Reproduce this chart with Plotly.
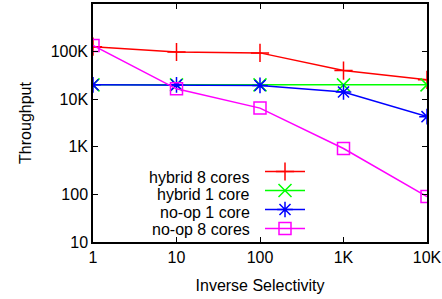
import plotly.graph_objects as go

x_vals = [1, 10, 100, 1000, 10000]
hybrid_8 = [127000, 98000, 94000, 40000, 25500]
hybrid_1 = [20000, 20000, 20000, 20000, 20000]
noop_1 = [20000, 20000, 19500, 14200, 4300]
noop_8 = [135000, 16500, 6500, 920, 90]

series_names = ["hybrid 8 cores", "hybrid 1 core", "no-op 1 core", "no-op 8 cores"]
series_vals = [hybrid_8, hybrid_1, noop_1, noop_8]
colors = ["#ff0000", "#00ff00", "#0000ff", "#ff00ff"]
symbols = ["cross-thin-open", "x-thin-open", "asterisk-open", "square-open"]
sizes = [13, 13, 13, 12]

x_tickvals = [1, 10, 100, 1000, 10000]
x_ticktext = ["1", "10", "100", "1K", "10K"]
y_tickvals = [10, 100, 1000, 10000, 100000, 1000000]
y_ticktext = ["10", "100", "1K", "10K", "100K", ""]

FONT = "Liberation Sans, Arial, sans-serif"
FS = 16

fig = go.Figure()
for name, vals, c, s, sz in zip(series_names, series_vals, colors, symbols, sizes):
    fig.add_trace(go.Scatter(
        x=x_vals, y=vals, name=name, mode="lines+markers",
        line=dict(color=c, width=1.5),
        marker=dict(symbol=s, size=sz, color=c, line=dict(color=c, width=1.5)),
    ))

axis_common = dict(
    type="log", showgrid=False, zeroline=False, showline=True, linecolor="black",
    linewidth=1.5, mirror="ticks", ticks="inside", ticklen=5, tickcolor="black",
    tickwidth=1, tickfont=dict(family=FONT, size=FS, color="black"), automargin=False,
)

PLOT_TOP, PLOT_BOTTOM = 4, 242
PLOT_H = PLOT_BOTTOM - PLOT_TOP

def py(pixel_y):
    return (PLOT_BOTTOM - pixel_y) / PLOT_H

fig.update_layout(
    width=442, height=299,
    margin=dict(l=93, r=15, t=PLOT_TOP, b=299 - PLOT_BOTTOM, autoexpand=False),
    paper_bgcolor="white", plot_bgcolor="white",
    font=dict(family=FONT, size=FS, color="black"),
    xaxis=dict(**axis_common, range=[0, 4], tickvals=x_tickvals, ticktext=x_ticktext,
               title=dict(text="Inverse Selectivity", font=dict(size=FS))),
    yaxis=dict(**axis_common, range=[1, 6], tickvals=y_tickvals, ticktext=y_ticktext,
               title=dict(text="Throughput", font=dict(size=FS))),
    legend=dict(
        x=0.5, y=py(157), xanchor="left", yanchor="top",
        bgcolor="rgba(0,0,0,0)", borderwidth=0,
        font=dict(family=FONT, size=11, color="rgba(0,0,0,0)"),
        tracegroupgap=0, itemwidth=40,
    ),
    showlegend=True,
)

# legend labels, right-aligned to the left of the legend samples
for i, name in enumerate(series_names):
    fig.add_annotation(
        xref="paper", yref="paper", x=(250 - 93) / 334, y=py(177 + 17.5 * i),
        text=name, showarrow=False, xanchor="right", yanchor="middle", xshift=2,
        font=dict(family=FONT, size=FS, color="black"),
    )

fig.write_html(
    "out.html",
    config={"displayModeBar": False},
    post_script="document.body.style.margin='0';document.body.style.overflow='hidden';",
)
